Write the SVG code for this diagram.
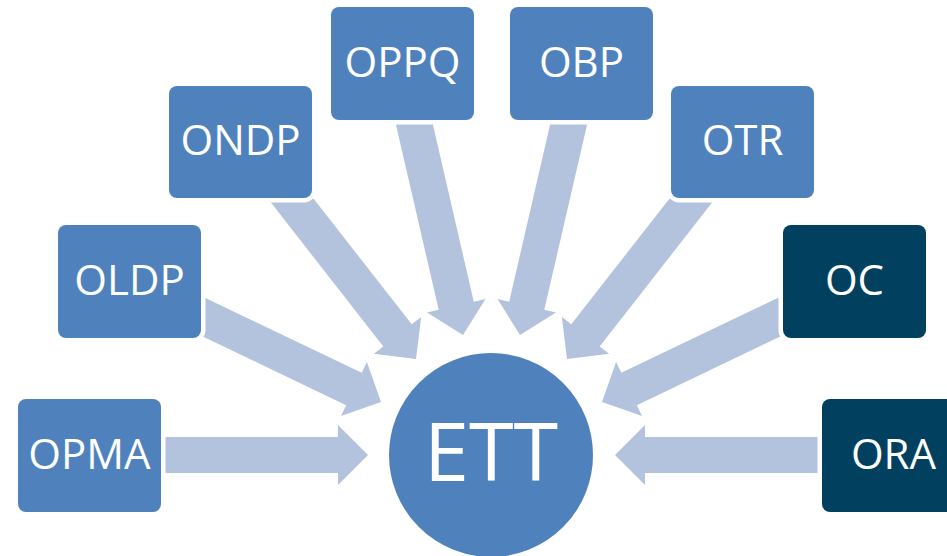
<svg xmlns="http://www.w3.org/2000/svg" width="947" height="556" viewBox="0 0 947 556">
<defs>
<style>
.arrow{fill:#B3C2DD;}
.box{fill:#4F81BD;stroke:#FFFFFF;stroke-width:9;paint-order:stroke;}
.dark{fill:#02405F;}
.lbl{font-family:"Open Sans","Liberation Sans",sans-serif;font-size:42px;fill:#FFFFFF;text-anchor:middle;}
.big{font-size:81px;}
</style>
<polygon id="arr" points="0,0 -30,-30 -30,-18 -230,-18 -230,18 -30,18 -30,30"/>
</defs>
<rect width="947" height="556" fill="#FFFFFF"/>
<g id="connectors">
<use href="#arr" class="arrow" transform="translate(368,455)"/>
<use href="#arr" class="arrow" transform="translate(381,402) rotate(25.6)"/>
<use href="#arr" class="arrow" transform="translate(416,359) rotate(52)"/>
<use href="#arr" class="arrow" transform="translate(463,335) rotate(77)"/>
<use href="#arr" class="arrow" transform="translate(520,335) rotate(103)"/>
<use href="#arr" class="arrow" transform="translate(567,359) rotate(128)"/>
<use href="#arr" class="arrow" transform="translate(602,402) rotate(154.4)"/>
<use href="#arr" class="arrow" transform="translate(615,455) rotate(180)"/>
</g>
<g id="ETT">
<circle cx="491" cy="455" r="103" fill="#4F81BD" stroke="#FFFFFF" stroke-width="2"/>
<text class="lbl big" x="491" y="481">ETT</text>
</g>
<g id="OPMA">
<rect class="box" x="18" y="399" width="143" height="113" rx="8"/>
<text class="lbl" x="89.5" y="469">OPMA</text>
</g>
<g id="OLDP">
<rect class="box" x="58" y="225" width="143" height="113" rx="8"/>
<text class="lbl" x="129.5" y="295">OLDP</text>
</g>
<g id="ONDP">
<rect class="box" x="169" y="86" width="143" height="112" rx="8"/>
<text class="lbl" x="240.5" y="155">ONDP</text>
</g>
<g id="OPPQ">
<rect class="box" x="331" y="7" width="143" height="113" rx="8"/>
<text class="lbl" x="402.5" y="77">OPPQ</text>
</g>
<g id="OBP">
<rect class="box" x="510" y="7" width="143" height="113" rx="8"/>
<text class="lbl" x="581.5" y="77">OBP</text>
</g>
<g id="OTR">
<rect class="box" x="671" y="86" width="143" height="112" rx="8"/>
<text class="lbl" x="742.5" y="155">OTR</text>
</g>
<g id="OC">
<rect class="box dark" x="783" y="225" width="143" height="113" rx="8"/>
<text class="lbl" x="854.5" y="295">OC</text>
</g>
<g id="ORA">
<rect class="box dark" x="822" y="399" width="143" height="113" rx="8"/>
<text class="lbl" x="893.5" y="469">ORA</text>
</g>
</svg>
